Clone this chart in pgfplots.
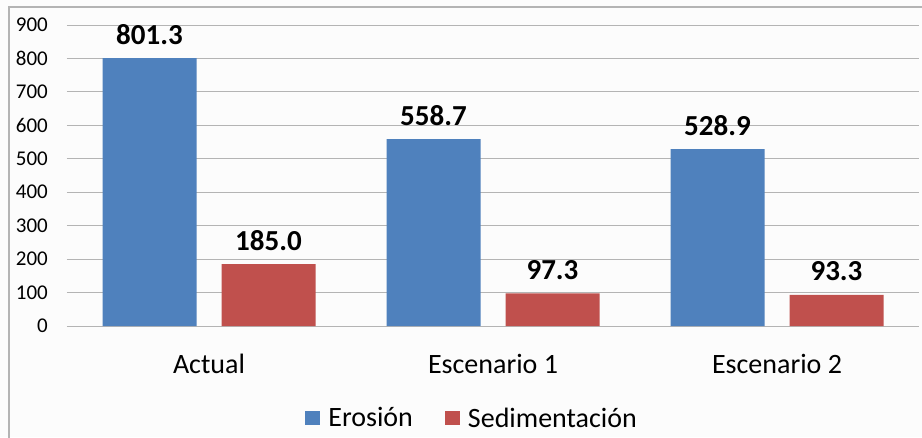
\documentclass[border=0pt]{standalone}
\usepackage{pgfplots}
\pgfplotsset{compat=1.18}
\usepackage{fontspec}
\setmainfont{Carlito}
\definecolor{bblue}{HTML}{4F81BD}
\definecolor{rred}{HTML}{C0504D}
\definecolor{bg}{HTML}{FCFCFC}
\definecolor{gridc}{HTML}{B4B4B4}
\begin{document}
\begin{tikzpicture}
\path[use as bounding box, fill=bg] (0pt,0pt) rectangle (922pt,437pt);
\draw[gridc, line width=1.5pt] (9pt,-20pt) rectangle (950pt,430pt);
\begin{axis}[
  at={(67pt,111pt)}, anchor=south west, scale only axis,
  width=852pt, height=301pt,
  ymin=0, ymax=900, ytick={0,100,...,900},
  xmin=-0.5, xmax=2.5, xtick={0,1,2},
  xticklabels={Actual,Escenario 1,Escenario 2},
  ybar=25pt, bar width=94pt,
  axis line style={draw=none}, major tick length=0pt,
  ymajorgrids, grid style={gridc, line width=1pt},
  /pgf/number format/assume math mode=true,
  yticklabel style={font=\fontsize{21}{21}\selectfont, inner sep=0pt, anchor=east, xshift=-19pt},
  xticklabel style={font=\fontsize{28}{28}\selectfont, inner sep=0pt, anchor=base, yshift=-47pt},
  nodes near coords={\pgfmathprintnumber[fixed,fixed zerofill,precision=1]{\pgfplotspointmeta}},
  every node near coord/.append style={font=\bfseries\fontsize{29}{29}\selectfont, inner sep=0pt, anchor=base, yshift=14pt, text=black},
  legend columns=2,
  legend style={at={(axis description cs:0.4755,-0.306)}, anchor=center, draw=none, fill=none,
    font=\fontsize{28}{28}\selectfont,
    /tikz/every odd column/.append style={column sep=6pt},
    /tikz/every even column/.append style={column sep=30pt}},
  legend image code/.code={\fill[#1] (0pt,-7pt) rectangle (15pt,7pt);},
]
\addplot[fill=bblue, draw=none] coordinates {(0,801.3) (1,558.7) (2,528.9)};
\addplot[fill=rred, draw=none] coordinates {(0,185.0) (1,97.3) (2,93.3)};
\legend{Erosión,Sedimentación}
\end{axis}
\end{tikzpicture}
\end{document}
